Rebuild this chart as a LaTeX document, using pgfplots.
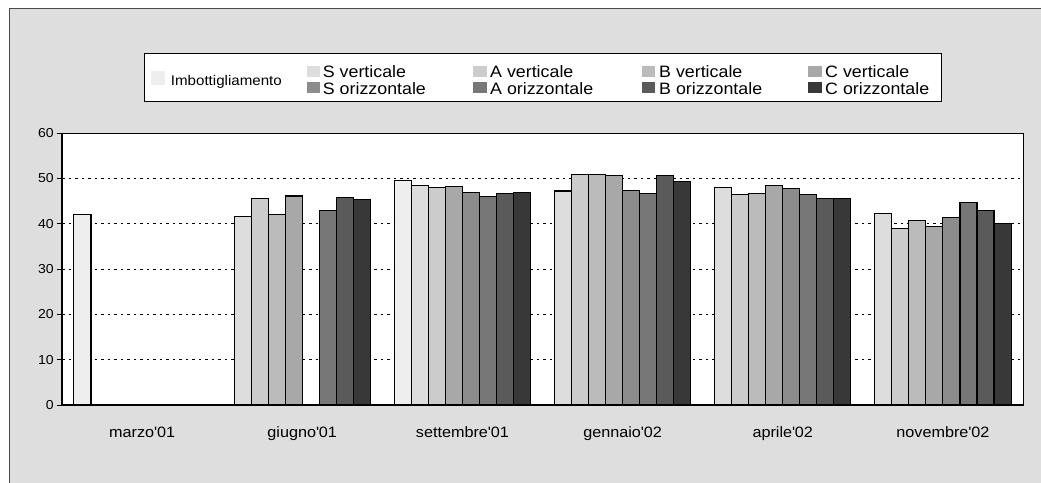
\documentclass[border=0pt]{standalone}
\usepackage{fontspec}
\setmainfont{Liberation Sans}[FakeStretch=1.08]
\usepackage{pgfplots}
\pgfplotsset{compat=1.18}
\definecolor{bggray}{HTML}{DEDEDE}
\definecolor{framegray}{HTML}{4A4A4A}
\definecolor{cI}{HTML}{EEEEEE}
\definecolor{cSv}{HTML}{DDDDDD}
\definecolor{cAv}{HTML}{CCCCCC}
\definecolor{cBv}{HTML}{BBBBBB}
\definecolor{cCv}{HTML}{A8A8A8}
\definecolor{cSo}{HTML}{8C8C8C}
\definecolor{cAo}{HTML}{777777}
\definecolor{cBo}{HTML}{5A5A5A}
\definecolor{cCo}{HTML}{383838}
\begin{document}
\begin{tikzpicture}
\useasboundingbox (0pt,0pt) rectangle (1041pt,482pt);
\fill[white] (0pt,0pt) rectangle (1041pt,482pt);
\fill[bggray] (9.5pt,-5pt) rectangle (1050pt,473.5pt);
\draw[line width=1.5pt, framegray] (9.5pt,-5pt) -- (9.5pt,473.5pt) -- (1050pt,473.5pt);
\begin{scope}[x=1pt,y=1pt]
% legend
\draw[fill=white, line width=1pt] (144,428) rectangle (941,380);
\fill[cI] (151,397.3) rectangle (165,410.7);
\node[anchor=base west, inner sep=0pt, font=\fontsize{14}{14}\selectfont] at (170.7,396) {Imbottigliamento};
\fill[cSv] (306.7,405.3) rectangle (320,416.3);
\fill[cSo] (306.7,388.7) rectangle (320,399.7);
\fill[cAv] (473.3,405.3) rectangle (486.7,416.3);
\fill[cAo] (473.3,388.7) rectangle (486.7,399.7);
\fill[cBv] (641.7,405.3) rectangle (655,416.3);
\fill[cBo] (641.7,388.7) rectangle (655,399.7);
\fill[cCv] (808.3,405.3) rectangle (821.7,416.3);
\fill[cCo] (808.3,388.7) rectangle (821.7,399.7);
\begin{scope}[every node/.style={anchor=base west, inner sep=0pt, font=\fontsize{16.5}{16.5}\selectfont}]
\node at (322.7,404.3) {S verticale};
\node at (322.7,387.7) {S orizzontale};
\node at (490,404.3) {A verticale};
\node at (490,387.7) {A orizzontale};
\node at (659,404.3) {B verticale};
\node at (659,387.7) {B orizzontale};
\node at (825,404.3) {C verticale};
\node at (825,387.7) {C orizzontale};
\end{scope}
\end{scope}
\begin{axis}[
  at={(62pt,77pt)}, anchor=south west,
  width=961pt, height=272pt, scale only axis,
  xmin=-0.5, xmax=5.5, ymin=0, ymax=60,
  ybar, bar width=0.1064, bar shift=0pt,
  axis background/.style={fill=white},
  xtick={0,...,5},
  xticklabels={marzo\textquotesingle 01,giugno\textquotesingle 01,settembre\textquotesingle 01,gennaio\textquotesingle 02,aprile\textquotesingle 02,novembre\textquotesingle 02},
  x tick style={draw=none},
  xtick align=inside,
  extra x ticks={-0.5,0.5,...,5.5},
  extra x tick labels={},
  extra x tick style={xtick align=outside, major tick length=5pt, tick style={draw=black, line width=1pt}},
  ytick={0,10,...,60},
  ytick align=outside, major tick length=5pt,
  y tick style={black, line width=1pt},
  tick pos=left,
  ymajorgrids,
  grid style={black, line width=0.8pt, dash pattern=on 2.5pt off 4pt},
  axis line style={line width=1pt},
  /pgf/number format/assume math mode=true,
  yticklabel style={font=\fontsize{13}{13}\selectfont, anchor=east, inner sep=0pt, xshift=-3pt},
  xticklabel style={font=\fontsize{15}{15}\selectfont, anchor=base, inner sep=0pt, yshift=-32.5pt},
  every axis plot/.append style={draw=black, line width=1.1pt},
  after end axis/.code={\draw[line width=2pt] (rel axis cs:0,1) -- (rel axis cs:0,0) -- (rel axis cs:1,0);},
]
% Imbottigliamento
\addplot[fill=cI] coordinates {(-0.3724,42.1) (1.6276,49.6)};
% S verticale
\addplot[fill=cSv] coordinates {(0.6276,41.6) (1.7340,48.5) (2.6276,47.2) (3.6276,48.0) (4.6276,42.3)};
% A verticale
\addplot[fill=cAv] coordinates {(0.7340,45.6) (1.8404,47.9) (2.7340,50.9) (3.7340,46.5) (4.7340,39.0)};
% B verticale
\addplot[fill=cBv] coordinates {(0.8404,42.1) (2.8404,50.9) (3.8404,46.7) (4.8404,40.6)};
% C verticale
\addplot[fill=cCv] coordinates {(0.9468,46.1) (1.9468,48.2) (2.9468,50.6) (3.9468,48.5) (4.9468,39.3)};
% S orizzontale
\addplot[fill=cSo] coordinates {(2.0532,46.9) (3.0532,47.4) (4.0532,47.7) (5.0532,41.4)};
% A orizzontale
\addplot[fill=cAo] coordinates {(1.1596,42.9) (2.1596,45.9) (3.1596,46.7) (4.1596,46.5) (5.1596,44.6)};
% B orizzontale
\addplot[fill=cBo] coordinates {(1.2660,45.8) (2.2660,46.7) (3.2660,50.7) (4.2660,45.6) (5.2660,43.0)};
% C orizzontale
\addplot[fill=cCo] coordinates {(1.3724,45.4) (2.3724,46.9) (3.3724,49.3) (4.3724,45.6) (5.3724,40.1)};
\end{axis}
\end{tikzpicture}
\end{document}
